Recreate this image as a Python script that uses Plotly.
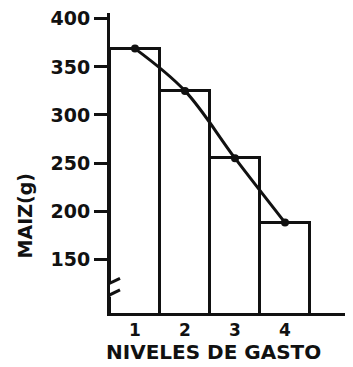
import plotly.graph_objects as go

levels = [1, 2, 3, 4]
tick_labels = ["1", "2", "3", "4"]
maiz = [369, 325, 255, 188]
y_ticks = [150, 200, 250, 300, 350, 400]

FONT = "DejaVu Sans"
INK = "#111"
fig = go.Figure()
fig.add_trace(go.Bar(
    x=levels, y=maiz, width=1,
    marker=dict(color="rgba(0,0,0,0)", line=dict(color=INK, width=3)),
    showlegend=False, hoverinfo="skip",
))
fig.add_trace(go.Scatter(
    x=levels, y=maiz, mode="lines+markers",
    line=dict(color=INK, width=3, shape="spline", smoothing=1.0),
    marker=dict(color=INK, size=8),
    showlegend=False,
))

# page body has an 8px margin, so the figure is shifted by 8px
fig.update_layout(
    width=345, height=359,
    margin=dict(l=102, r=0, t=5, b=54),
    paper_bgcolor="white", plot_bgcolor="white",
    bargap=0,
    font=dict(family=FONT, color=INK),
    xaxis=dict(
        range=[0.5, 5.36], tickvals=levels, ticktext=tick_labels,
        showline=True, linecolor=INK, linewidth=3,
        showgrid=False, zeroline=False, ticks="",
        tickfont=dict(size=17, family=FONT, weight="bold"),
    ),
    yaxis=dict(
        range=[94, 406], tickvals=y_ticks,
        showline=True, linecolor=INK, linewidth=3,
        showgrid=False, zeroline=False,
        ticks="outside", ticklen=13, tickwidth=3, tickcolor=INK,
        tickfont=dict(size=19, family=FONT, weight="bold"),
        ticklabeloverflow="allow",
    ),
    annotations=[
        dict(text="MAIZ(g)", xref="paper", yref="paper", x=-0.35, y=0.325,
             textangle=-90, showarrow=False,
             font=dict(size=19, family=FONT, weight="bold"),
             xanchor="center", yanchor="middle"),
        dict(text="NIVELES DE GASTO", xref="paper", yref="paper", x=0.424, y=-0.175,
             showarrow=False, font=dict(size=20, family=FONT, weight="bold"),
             xanchor="center", yanchor="bottom"),
    ],
)

# axis break marks
fig.add_shape(type="line", xref="x", yref="y", x0=0.5, x1=0.5, y0=111, y1=126,
              line=dict(color="white", width=5))
for yc in (125, 113):
    fig.add_shape(type="line", xref="x", yref="y", x0=0.3, x1=0.7,
                  y0=yc - 5, y1=yc + 5, line=dict(color=INK, width=3))

fig.write_html("out.html")
